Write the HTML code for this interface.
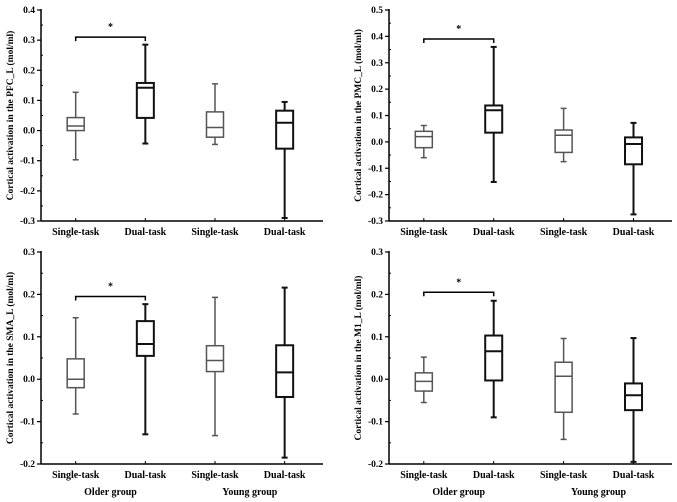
<!DOCTYPE html>
<html><head><meta charset="utf-8"><style>
html,body{margin:0;padding:0;background:#fff;}
svg{display:block;font-family:"Liberation Serif",serif;font-weight:bold;}
</style></head><body>
<svg id="chart" width="677" height="502" viewBox="0 0 677 502" xmlns="http://www.w3.org/2000/svg"></svg>
<script>
const categories = ["Single-task","Dual-task","Single-task","Dual-task"];
const groups = ["Older group","Young group"];
const titles = ["Cortical activation in the PFC_L (mol/ml)","Cortical activation in the PMC_L (mol/ml)","Cortical activation in the SMA_L (mol/ml)","Cortical activation in the M1_L (mol/ml)"];
// each box: [min, q1, median, q3, max]
const pfcBoxes = [[-0.097,0.0,0.015,0.043,0.127],[-0.043,0.042,0.142,0.158,0.285],[-0.046,-0.022,0.01,0.062,0.155],[-0.29,-0.06,0.026,0.066,0.095]];
const pmcBoxes = [[-0.06,-0.022,0.02,0.04,0.062],[-0.152,0.035,0.12,0.138,0.36],[-0.075,-0.04,0.025,0.045,0.127],[-0.275,-0.085,-0.008,0.017,0.072]];
const smaBoxes = [[-0.082,-0.02,0.0,0.048,0.145],[-0.13,0.055,0.083,0.137,0.177],[-0.133,0.018,0.044,0.079,0.193],[-0.185,-0.042,0.016,0.08,0.216]];
const m1Boxes = [[-0.055,-0.028,-0.005,0.015,0.052],[-0.09,-0.003,0.066,0.103,0.185],[-0.142,-0.078,0.007,0.04,0.096],[-0.195,-0.073,-0.038,-0.01,0.097]];
const pfcTicks = ["-0.3","-0.2","-0.1","0.0","0.1","0.2","0.3","0.4"];
const pmcTicks = ["-0.3","-0.2","-0.1","0.0","0.1","0.2","0.3","0.4","0.5"];
const smaTicks = ["-0.2","-0.1","0.0","0.1","0.2","0.3"];
const m1Ticks = ["-0.2","-0.1","0.0","0.1","0.2","0.3"];
const sigBracket = [0.31,0.39,0.195,0.205];

const svg=document.getElementById('chart');
const NS="http://www.w3.org/2000/svg";
function mk(tag,attrs,parent){const e=document.createElementNS(NS,tag);for(const k in attrs)e.setAttribute(k,attrs[k]);(parent||svg).appendChild(e);return e;}

const panels=[
 {ax:41,top:10,bot:221,right:323,boxes:pfcBoxes,ticks:pfcTicks,name:'pfc'},
 {ax:389,top:10,bot:221,right:672,boxes:pmcBoxes,ticks:pmcTicks,name:'pmc'},
 {ax:41,top:252,bot:464,right:323,boxes:smaBoxes,ticks:smaTicks,name:'sma'},
 {ax:389,top:252,bot:464,right:672,boxes:m1Boxes,ticks:m1Ticks,name:'m1'}];

panels.forEach((p,pi)=>{
  const g=mk('g',{});
  
  
  const lo=parseFloat(p.ticks[0]),hi=parseFloat(p.ticks[p.ticks.length-1]);
  const y=v=>p.bot-(v-lo)/(hi-lo)*(p.bot-p.top);
  const span=p.right-p.ax;
  const x=i=>p.ax+span*(0.123+i*0.247);
  // axes
  const ya=mk('line',{x1:p.ax,y1:p.top-1,x2:p.ax,y2:p.bot,stroke:'#000','stroke-width':1.5},g);
  
  const xa=mk('line',{x1:p.ax,y1:p.bot,x2:p.right,y2:p.bot,stroke:'#000','stroke-width':1.5},g);
  
  p.ticks.forEach((t,i)=>{
    const v=parseFloat(t),yy=y(v);
    mk('line',{x1:p.ax-4,y1:yy,x2:p.ax,y2:yy,stroke:'#000','stroke-width':1.2},g);
    if(i<p.ticks.length-1){const ym=y(v+(hi-lo)/(p.ticks.length-1)/2);mk('line',{x1:p.ax,y1:ym,x2:p.ax+2,y2:ym,stroke:'#000','stroke-width':1},g);}
    const tl=mk('text',{x:p.ax-6,y:yy+3,'text-anchor':'end','font-size':9.5},g);tl.textContent=t;
    
  });
  const tx=p.ax-28,ty=(p.top+p.bot)/2;
  const yt=mk('text',{x:tx,y:ty,'text-anchor':'middle','font-size':9.5,transform:`rotate(-90 ${tx} ${ty})`},g);
  yt.textContent=titles[pi];
  categories.forEach((c,i)=>{
    const cx=x(i);
    mk('line',{x1:cx,y1:p.bot,x2:cx,y2:p.bot-3,stroke:'#000','stroke-width':1},g);
    const cl=mk('text',{x:cx,y:p.bot+14,'text-anchor':'middle','font-size':10},g);cl.textContent=c;
    
    const b=p.boxes[i];const col=i%2===0?'#555':'#111';const sw=i%2===0?1.5:2;
    const bg=mk('g',{stroke:col,'stroke-width':sw,fill:'none'},g);
    
    
    const hw=8.5,cw=3;
    mk('line',{x1:cx,y1:y(b[0]),x2:cx,y2:y(b[1])},bg);
    mk('line',{x1:cx,y1:y(b[3]),x2:cx,y2:y(b[4])},bg);
    mk('line',{x1:cx-cw,y1:y(b[0]),x2:cx+cw,y2:y(b[0])},bg);
    mk('line',{x1:cx-cw,y1:y(b[4]),x2:cx+cw,y2:y(b[4])},bg);
    mk('rect',{x:cx-hw,y:y(b[3]),width:2*hw,height:y(b[1])-y(b[3]),fill:'#fff'},bg);
    mk('line',{x1:cx-hw,y1:y(b[2]),x2:cx+hw,y2:y(b[2])},bg);
  });
  const by=y(sigBracket[pi]);
  const br=mk('path',{d:`M${x(0)},${by+4}V${by}H${x(1)}V${by+4}`,stroke:'#000','stroke-width':1.5,fill:'none'},g);
  
  const st=mk('text',{x:(x(0)+x(1))/2,y:by-7,'text-anchor':'middle','font-size':10},g);st.textContent='*';
  
  if(pi>=2){
    groups.forEach((gn,gi)=>{
      const gl=mk('text',{x:(x(gi*2)+x(gi*2+1))/2,y:p.bot+31,'text-anchor':'middle','font-size':10},g);gl.textContent=gn;
      
    });
  }
});
</script>
</body></html>
